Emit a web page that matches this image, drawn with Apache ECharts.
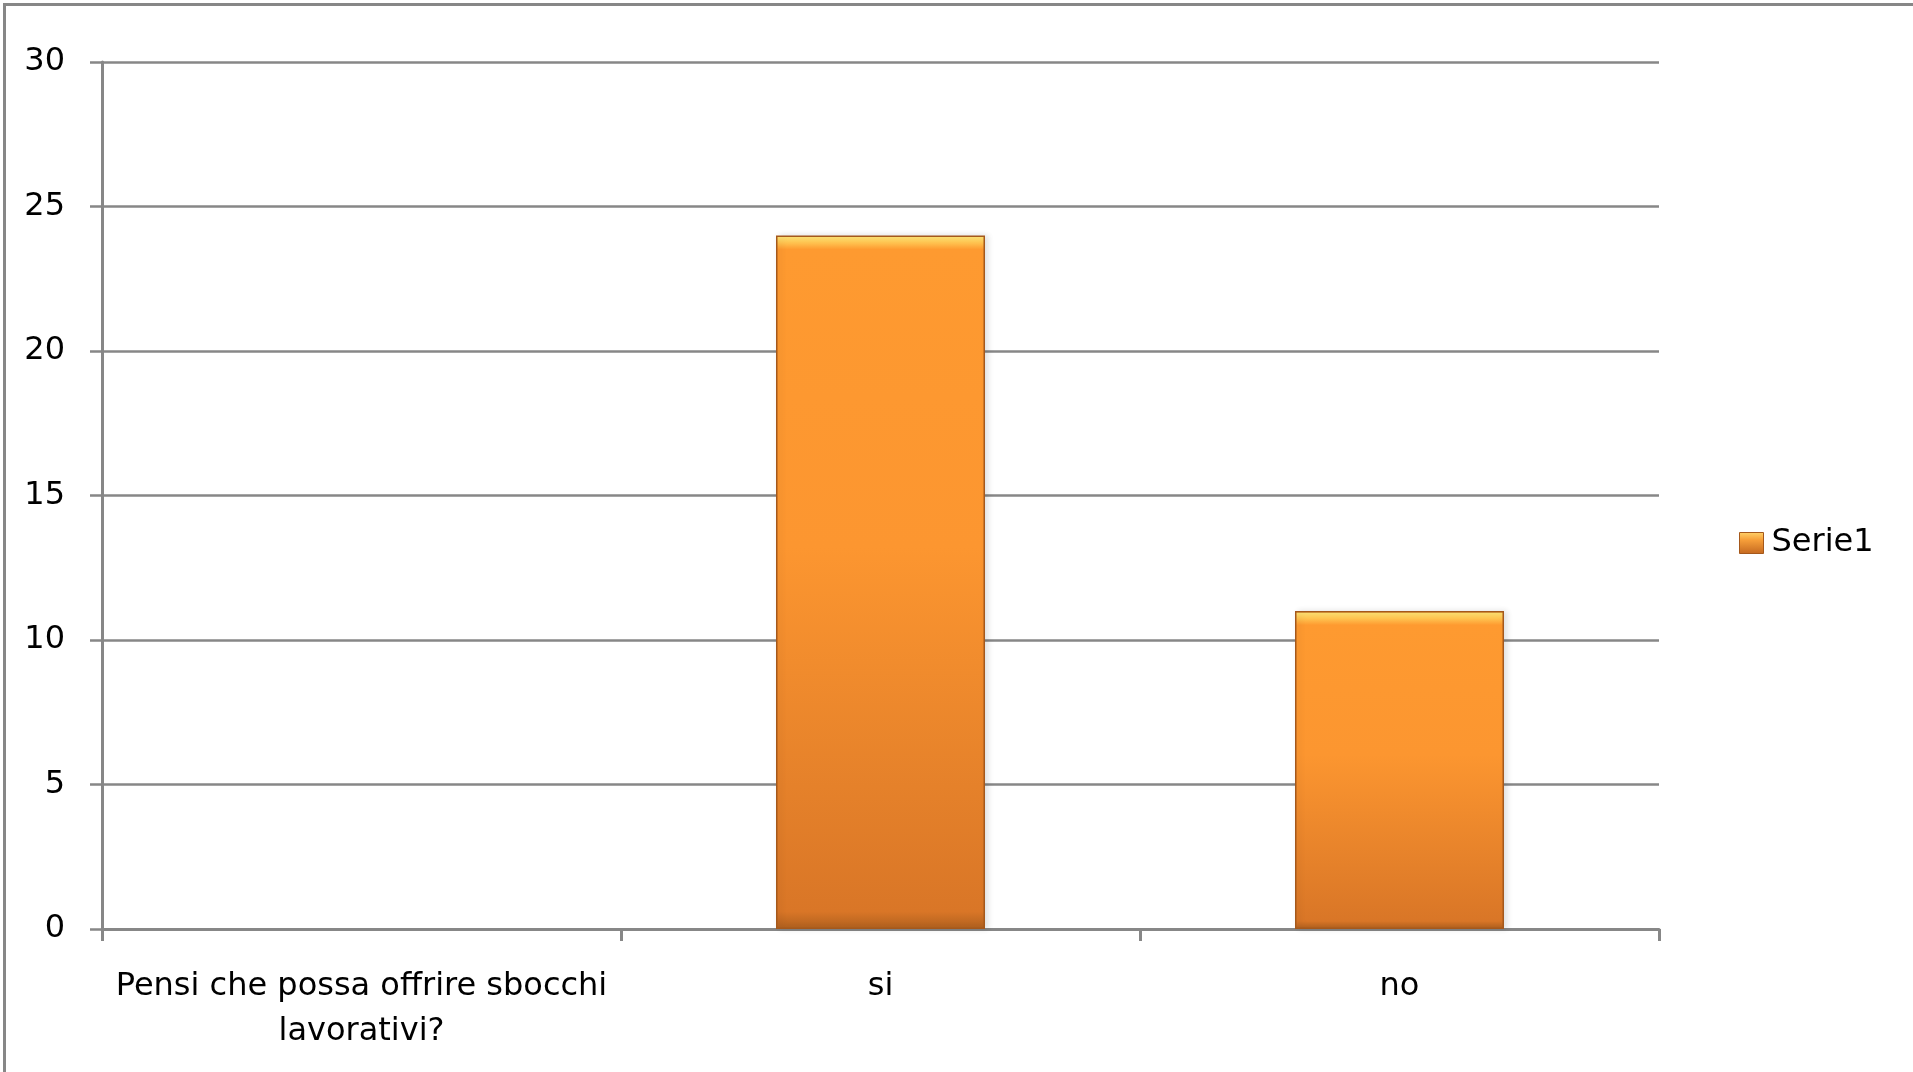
<!DOCTYPE html>
<html>
<head>
<meta charset="utf-8">
<script src="https://cdn.jsdelivr.net/npm/echarts@6/dist/echarts.min.js"></script>
<style>
html,body{margin:0;padding:0;background:#fff;}
#chart{width:1913px;height:1072px;}
</style>
</head>
<body>
<div id="chart"></div>
<script>
const categories = ['Pensi che possa offrire sbocchi lavorativi?', 'si', 'no'];
const serieName = 'Serie1';
const serieValues = [null, 24, 11];
const yTicks = { min: 0, max: 30, interval: 5 };

const FONT = '"DejaVu Sans", Verdana, sans-serif';
const chart = echarts.init(document.getElementById('chart'), null, { renderer: 'canvas' });

function barStyle(v) {
  const plotH = 1072 - 62 - 143;
  const px = v * plotH / (yTicks.max - yTicks.min);
  const f = Math.min(0.2, 14 / Math.max(px, 1));
  return {
    color: new echarts.graphic.LinearGradient(0, 0, 0, 1, [
      { offset: 0, color: '#F3922C' },
      { offset: f * 0.15, color: '#FFE070' },
      { offset: f * 0.5, color: '#FFC552' },
      { offset: f, color: '#FE9A30' },
      { offset: 0.45, color: '#FC9630' },
      { offset: 0.975, color: '#D97627' },
      { offset: 1, color: '#B0601E' }
    ]),
    borderColor: '#A5581B',
    borderWidth: 1.5,
    shadowColor: 'rgba(0,0,0,0.12)',
    shadowBlur: 6,
    shadowOffsetX: 3
  };
}

const seriesData = serieValues.map(v => v == null ? { value: null } : { value: v, itemStyle: barStyle(v) });

chart.setOption({
  animation: false,
  backgroundColor: '#ffffff',
  textStyle: { fontFamily: FONT },
  graphic: [{
    type: 'rect',
    shape: { x: 4.5, y: 4.5, width: 2200, height: 2200 },
    style: { fill: 'none', stroke: '#878787', lineWidth: 3 },
    silent: true, z: 100
  }],
  grid: { left: 102, right: 254, top: 62, bottom: 143 },
  legend: {
    orient: 'vertical',
    left: 1734,
    top: 522,
    itemWidth: 24,
    itemHeight: 21,
    itemGap: 10,
    textStyle: { fontSize: 32, color: '#000', fontFamily: FONT, padding: [0, 0, 0, 3] },
    data: [{
      name: serieName,
      icon: 'rect',
      itemStyle: {
        color: new echarts.graphic.LinearGradient(0, 0, 0, 1, [
          { offset: 0, color: '#FFD36A' },
          { offset: 0.35, color: '#F7A03A' },
          { offset: 1, color: '#C46820' }
        ]),
        borderColor: '#A5581B',
        borderWidth: 1
      }
    }]
  },
  xAxis: {
    type: 'category',
    data: categories,
    boundaryGap: true,
    axisLine: { show: true, lineStyle: { color: '#878787', width: 3 } },
    axisTick: { show: true, length: 12, alignWithLabel: false, lineStyle: { color: '#878787', width: 3 } },
    axisLabel: {
      fontSize: 32,
      color: '#000',
      fontFamily: FONT,
      margin: 35,
      lineHeight: 45,
      interval: 0,
      formatter: function (v) {
        return v.replace('sbocchi ', 'sbocchi\n');
      }
    },
    splitLine: { show: false }
  },
  yAxis: {
    type: 'value',
    min: yTicks.min,
    max: yTicks.max,
    interval: yTicks.interval,
    axisLine: { show: true, lineStyle: { color: '#878787', width: 3 } },
    axisTick: { show: true, length: 12, lineStyle: { color: '#878787', width: 2.5 } },
    axisLabel: { fontSize: 32, color: '#000', fontFamily: FONT, margin: 37, padding: [4, 0, 0, 0] },
    splitLine: { show: true, lineStyle: { color: '#878787', width: 2.5 } }
  },
  series: [{
    name: serieName,
    type: 'bar',
    data: seriesData,
    barWidth: 209,
    itemStyle: { color: '#FE9A30' }
  }]
});
</script>
</body>
</html>
